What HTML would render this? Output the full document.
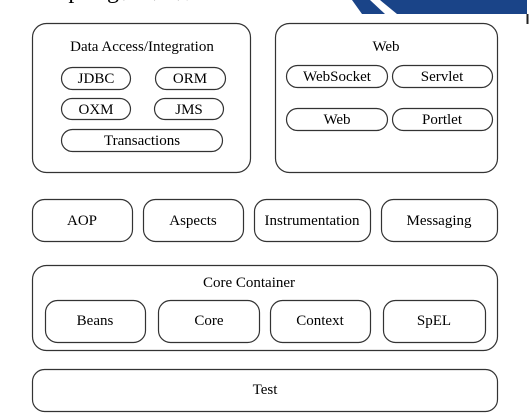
<!DOCTYPE html>
<html><head><meta charset="utf-8"><style>
html,body{margin:0;padding:0;background:#fff;width:530px;height:416px;overflow:hidden}
svg text{font-family:"Liberation Serif","Noto Serif CJK SC",serif;fill:#000}
</style></head><body>
<svg width="530" height="416" viewBox="0 0 530 416" xmlns="http://www.w3.org/2000/svg">
<polygon points="352,0 527,0 527,14 362,14" fill="#1a4488"/>
<polygon points="370,0 380,0 397,14 385,14" fill="#fff"/>
<line x1="527.5" y1="14" x2="527.5" y2="24" stroke="#222" stroke-width="2"/>
<text x="55" y="-2" font-size="24">Spring框架结构</text>
<g fill="none" stroke="#333" stroke-width="1.2">
<rect x="32.5" y="23.5" width="218" height="149" rx="14"/>
<rect x="275.5" y="23.5" width="222" height="149" rx="14"/>
<rect x="61.5" y="67.5" width="69" height="22" rx="11"/>
<rect x="155.5" y="67.5" width="70" height="22" rx="11"/>
<rect x="61.5" y="98.5" width="69" height="21" rx="10.5"/>
<rect x="154.5" y="98.5" width="69" height="21" rx="10.5"/>
<rect x="61.5" y="129.5" width="161" height="22" rx="11"/>
<rect x="286.5" y="65.5" width="101" height="22" rx="11"/>
<rect x="392.5" y="65.5" width="100" height="22" rx="11"/>
<rect x="286.5" y="108.5" width="101" height="22" rx="11"/>
<rect x="392.5" y="108.5" width="100" height="22" rx="11"/>
<rect x="32.5" y="199.5" width="100" height="42" rx="12"/>
<rect x="143.5" y="199.5" width="100" height="42" rx="12"/>
<rect x="254.5" y="199.5" width="116" height="42" rx="12"/>
<rect x="381.5" y="199.5" width="116" height="42" rx="12"/>
<rect x="32.5" y="265.5" width="465" height="85" rx="14"/>
<rect x="45.5" y="300.5" width="100" height="42" rx="12"/>
<rect x="158.5" y="300.5" width="101" height="42" rx="12"/>
<rect x="270.5" y="300.5" width="100" height="42" rx="12"/>
<rect x="383.5" y="300.5" width="102" height="42" rx="12"/>
<rect x="32.5" y="369.5" width="465" height="42" rx="12"/>
</g>
<g font-size="15" text-anchor="middle">
<text x="142" y="51">Data Access/Integration</text>
<text x="386" y="51">Web</text>
<text x="96" y="83">JDBC</text>
<text x="190" y="83">ORM</text>
<text x="96" y="114">OXM</text>
<text x="189" y="114">JMS</text>
<text x="142" y="145">Transactions</text>
<text x="337" y="81">WebSocket</text>
<text x="442" y="81">Servlet</text>
<text x="337" y="124">Web</text>
<text x="442" y="124">Portlet</text>
<text x="82" y="225">AOP</text>
<text x="193" y="225">Aspects</text>
<text x="312" y="225">Instrumentation</text>
<text x="439" y="225">Messaging</text>
<text x="249" y="287">Core Container</text>
<text x="95" y="325">Beans</text>
<text x="209" y="325">Core</text>
<text x="320" y="325">Context</text>
<text x="434" y="325">SpEL</text>
<text x="265" y="394">Test</text>
</g>
</svg>
</body></html>
